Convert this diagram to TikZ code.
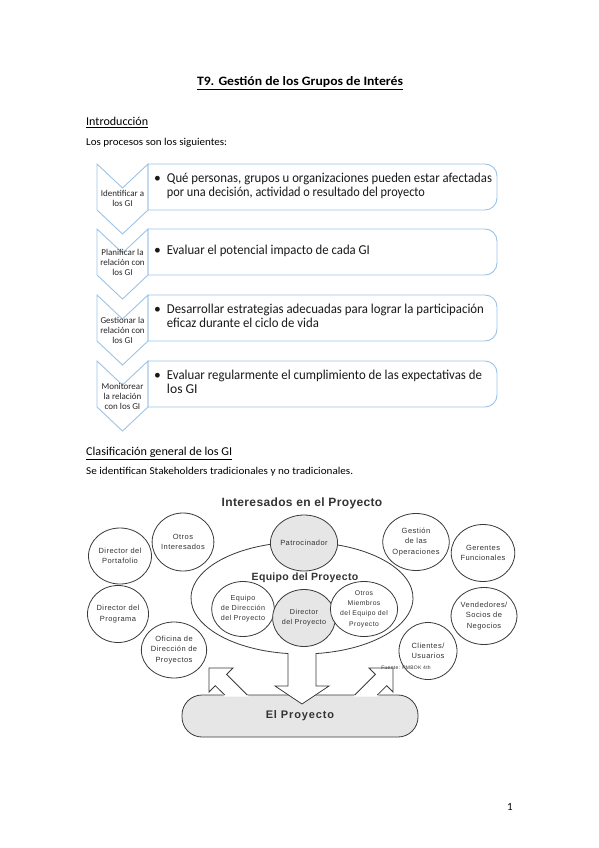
\documentclass[tikz,border=0pt]{standalone}
\usepackage{fontspec}
\usepackage{graphicx}
\setmainfont{Carlito}
\newfontfamily\dg[LetterSpace=6]{Liberation Sans}
\newfontfamily\dgh[LetterSpace=3]{Liberation Sans}
\newfontfamily\dgw[LetterSpace=8]{Liberation Sans}
\usetikzlibrary{shapes.geometric}
\definecolor{sablue}{HTML}{9DC3E6}
\definecolor{dline}{HTML}{3A3A3A}
\definecolor{dfill}{HTML}{E6E6E6}
\definecolor{dtext}{HTML}{333333}
\newcommand{\fitw}[2]{\resizebox{#1}{\height}{#2}}
\begin{document}
\begin{tikzpicture}[x=1pt,y=-1pt,
  chevron/.style={draw=sablue, line width=0.9pt, fill=white, line join=miter},
  pbox/.style={draw=sablue, line width=0.9pt},
  chevlabel/.style={font=\fontsize{9}{10}\selectfont, align=center, text=black!85, inner sep=0},
  boxtext/.style={anchor=west, font=\fontsize{13.6}{14}\selectfont, text=black!90, inner sep=0},
  heading/.style={anchor=base west, inner sep=0, font=\fontsize{12}{14}\selectfont},
  smalltext/.style={anchor=base west, inner sep=0, font=\fontsize{10.5}{12}\selectfont},
  stk/.style={ellipse, draw=dline, line width=0.8pt, fill=white, minimum width=61pt, minimum height=57pt, inner sep=0, align=center, font=\dg\fontsize{7.5}{10.5}\selectfont, text=dtext},
  stkgray/.style={stk, fill=dfill},
  dshape/.style={draw=dline, line width=0.8pt, line join=miter},
]
\useasboundingbox (0,0) rectangle (599,848);
\fill[white] (0,0) rectangle (599,848);

% ---------- header texts ----------
\node[anchor=base, inner sep=0, font=\bfseries\fontsize{12.8}{15}\selectfont] (title) at (300,86) {\underline{\fitw{206pt}{T9. Gestión de los Grupos de Interés}}};
\node[heading] (intro) at (86,125.5) {\underline{\fitw{62pt}{Introducción}}};
\node[smalltext] (procs) at (86,146) {\fitw{141pt}{Los procesos son los siguientes:}};

% ---------- process list ----------
% chevrons
\draw[chevron] (97,164) -- (122.5,188) -- (148,164) -- (148,210) -- (122.5,234) -- (97,210) -- cycle;
\draw[chevron] (97,229) -- (122.5,253) -- (148,229) -- (148,275) -- (122.5,299) -- (97,275) -- cycle;
\draw[chevron] (97,295) -- (122.5,319) -- (148,295) -- (148,341) -- (122.5,365) -- (97,341) -- cycle;
\draw[chevron] (97,361) -- (122.5,385) -- (148,361) -- (148,407) -- (122.5,431) -- (97,407) -- cycle;
\node[chevlabel] (c1) at (122.5,198) {Identificar a\\los GI};
\node[chevlabel] (c2) at (122.5,262) {Planificar la\\relación con\\los GI};
\node[chevlabel] (c3) at (122.5,330) {Gestionar la\\relación con\\los GI};
\node[chevlabel] (c4) at (122.5,396) {Monitorear\\la relación\\con los GI};
% boxes
\draw[pbox] (148,210) -- (148,164) -- (485,164) arc[start angle=270, end angle=360, radius=12] -- (497,198) arc[start angle=0, end angle=90, radius=12] -- cycle;
\draw[pbox] (148,275) -- (148,229) -- (485,229) arc[start angle=270, end angle=360, radius=12] -- (497,263) arc[start angle=0, end angle=90, radius=12] -- cycle;
\draw[pbox] (148,341) -- (148,295) -- (485,295) arc[start angle=270, end angle=360, radius=12] -- (497,329) arc[start angle=0, end angle=90, radius=12] -- cycle;
\draw[pbox] (148,407) -- (148,361) -- (485,361) arc[start angle=270, end angle=360, radius=12] -- (497,395) arc[start angle=0, end angle=90, radius=12] -- cycle;
\node[boxtext] (b1) at (154,187) {\begin{tabular}{@{}l@{\hspace{6pt}}l@{}}\textbullet & \fitw{325pt}{Qué personas, grupos u organizaciones pueden estar afectadas}\\ & \fitw{258pt}{por una decisión, actividad o resultado del proyecto}\end{tabular}};
\node[boxtext] (b2) at (154,252) {\begin{tabular}{@{}l@{\hspace{6pt}}l@{}}\textbullet & \fitw{203pt}{Evaluar el potencial impacto de cada GI}\end{tabular}};
\node[boxtext] (b3) at (154,318) {\begin{tabular}{@{}l@{\hspace{6pt}}l@{}}\textbullet & \fitw{317pt}{Desarrollar estrategias adecuadas para lograr la participación}\\ & \fitw{152pt}{eficaz durante el ciclo de vida}\end{tabular}};
\node[boxtext] (b4) at (154,384) {\begin{tabular}{@{}l@{\hspace{6pt}}l@{}}\textbullet & \fitw{315pt}{Evaluar regularmente el cumplimiento de las expectativas de}\\ & los GI\end{tabular}};

% ---------- classification ----------
\node[heading] (clas) at (86,455.5) {\underline{\fitw{146pt}{Clasificación general de los GI}}};
\node[smalltext] (stake) at (86,474) {\fitw{267pt}{Se identifican Stakeholders tradicionales y no tradicionales.}};

% ---------- stakeholder diagram ----------
\node[anchor=base, inner sep=0, text=dtext, font=\dgh\bfseries\fontsize{12}{14}\selectfont] (dtitle) at (302,506.5) {Interesados en el Proyecto};

% project box
\node[rectangle, rounded corners=20pt, draw=dline, line width=0.8pt, fill=dfill, minimum width=236pt, minimum height=42pt, inner sep=0, text=dtext, font=\dgw\bfseries\fontsize{11}{13}\selectfont] (proj) at (300,716) {El Proyecto};

% diagonal arrows
\fill[white] (224.7,696.6) -- (215.34,685.66) -- (209,692) -- (209,668) -- (233,668) -- (226.66,674.34) -- (248.9,696.6) -- cycle;
\draw[dshape] (224.7,695) -- (215.34,685.66) -- (209,692) -- (209,668) -- (233,668) -- (226.66,674.34) -- (247.3,695);
\fill[white] (377.3,696.6) -- (386.66,685.66) -- (393,692) -- (393,668) -- (369,668) -- (375.34,674.34) -- (353.1,696.6) -- cycle;
\draw[dshape] (377.3,695) -- (386.66,685.66) -- (393,692) -- (393,668) -- (369,668) -- (375.34,674.34) -- (354.7,695);

% team ellipse merged with down arrow
\draw[dshape, fill=white] (288,653.55) arc[start angle=97.25, end angle=442.75, x radius=111, y radius=56]
  -- (316,686) -- (329,686) -- (302,704) -- (275,686) -- (288,686) -- cycle;
\node[anchor=base, inner sep=0, text=dtext, font=\dgh\bfseries\fontsize{10.5}{12}\selectfont] (team) at (305,580.5) {Equipo del Proyecto};

% stakeholder circles
\node[stk, minimum width=63pt, minimum height=56pt] (dport) at (120,556) {Director del\\Portafolio};
\node[stk, minimum width=56pt, minimum height=58pt] (otros) at (183,542) {Otros\\Interesados};
\node[stkgray, minimum width=60pt, minimum height=56pt] (patro) at (304,543) {Patrocinador};
\node[stk] (gestop) at (416,542) {Gestión\\de las\\Operaciones};
\node[stk] (gerentes) at (483,553) {Gerentes\\Funcionales};
\node[stk] (dprog) at (118,614) {Director del\\Programa};
\node[stk, minimum width=58pt, minimum height=56pt] (ofic) at (174,650) {Oficina de\\Dirección de\\Proyectos};
\node[stk, minimum width=60pt, minimum height=55pt, font=\dg\fontsize{7.2}{10}\selectfont] (eqdir) at (243,609) {Equipo\\de Dirección\\del Proyecto};
\node[stkgray, minimum width=60pt, minimum height=57pt, font=\dg\fontsize{7.2}{10}\selectfont] (dproy) at (304,618) {Director\\del Proyecto};
\node[stk, minimum width=61pt, minimum height=55pt, font=\dg\fontsize{6.8}{10.3}\selectfont] (miemb) at (364,609) {Otros\\Miembros\\del Equipo del\\Proyecto};
\node[stk] (vend) at (484,616) {Vendedores/\\Socios de\\Negocios};
\node[stk, minimum width=58pt, minimum height=57pt] (client) at (428,651) {Clientes/\\Usuarios};
\node[inner sep=0, text=dtext, font=\dg\fontsize{5}{6}\selectfont] (fuente) at (406,668) {Fuente: PMBOK 4th};

% page number
\node[anchor=base, inner sep=0, font=\fontsize{11}{13}\selectfont] (page) at (510,810) {1};
\end{tikzpicture}
\end{document}
